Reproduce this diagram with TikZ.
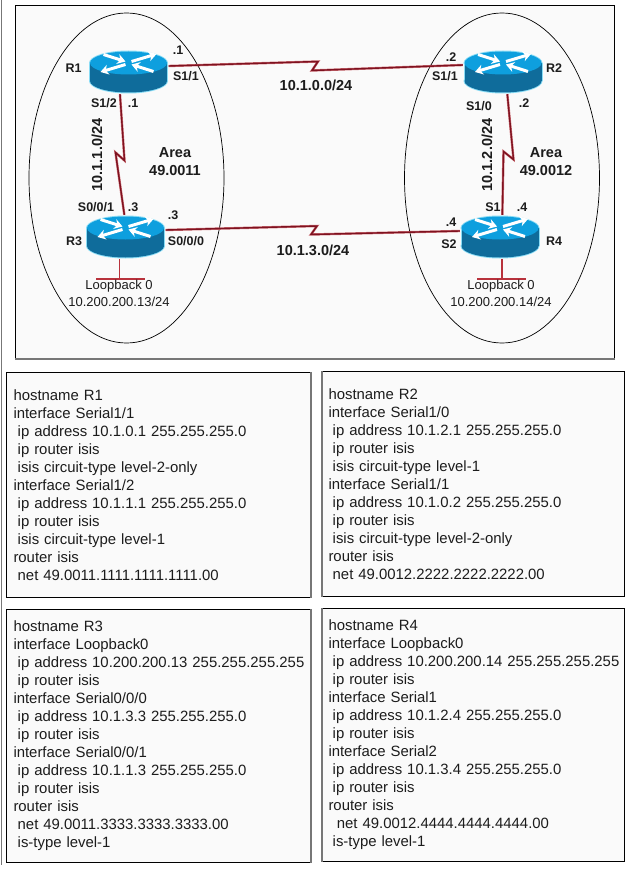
\documentclass[tikz,border=0pt]{standalone}
\usepackage{fontspec}
\setmainfont{Liberation Sans}
\usetikzlibrary{shapes.geometric,arrows.meta}
\definecolor{serialred}{HTML}{7E1220}
\definecolor{stubred}{HTML}{B8323C}
\definecolor{boxfill}{HTML}{FAFAFA}
\definecolor{routertop}{HTML}{0E9FDE}
\definecolor{routerside}{HTML}{0F6C9B}
\definecolor{routerglow}{HTML}{8ADCF5}
\definecolor{edgegray}{HTML}{777777}
\definecolor{inkgray}{HTML}{1C1C1C}
\newcommand{\ind}{\hspace*{4.2pt}}
\tikzset{
  routerdev/.style={minimum width=80pt,minimum height=44pt,inner sep=0pt,
    path picture={
      \begin{scope}[shift={(path picture bounding box.center)}]
      \fill[routerglow] (0,9) ellipse (39.5 and 12.5);
      \fill[routerglow] (-39.5,-9) rectangle (39.5,9);
      \fill[routerglow] (0,-9) ellipse (39.5 and 12.5);
      \fill[routerside] (0,9) ellipse (38.5 and 11.5);
      \fill[routerside] (-38.5,-9) rectangle (38.5,9);
      \fill[routertop] (0,-9) ellipse (38.5 and 11.5);
      \draw[arrowx] (-25,-17.5) -- (-3,-10.5);
      \draw[arrowx] (25,-0.5) -- (3,-7.5);
      \draw[arrowx] (3,-10.5) -- (28,-18);
      \draw[arrowx] (-3,-7.5) -- (-28,0);
      \end{scope}}},
  arrowx/.style={white,line width=3pt,-{Stealth[length=8pt,width=10pt]}},
  area/.style={draw=black,ellipse,inner sep=0pt,minimum width=195pt,minimum height=330pt,line width=0.7pt},
  serial/.style={draw=serialred,line width=1.4pt,line join=miter,preaction={draw=stubred!70,line width=2.4pt}},
  stub/.style={draw=stubred,line width=1.8pt},
  lab/.style={text=inkgray,inner sep=0pt,font=\bfseries\fontsize{12.5}{14}\selectfont},
  net/.style={text=inkgray,inner sep=0pt,align=center,font=\bfseries\fontsize{14.5}{18}\selectfont},
  loop/.style={text=inkgray,inner sep=0pt,font=\fontsize{13}{15}\selectfont},
  cfgbox/.style={draw=black,line width=1pt,fill=boxfill,anchor=north west,text=inkgray,align=left,inner ysep=0pt,font=\fontsize{14.9}{18}\selectfont},
  shadow/.style={draw=edgegray,line width=1.6pt}
}
\begin{document}
\begin{tikzpicture}[x=1pt,y=-1pt]
\useasboundingbox (0,0) rectangle (628,869);
\fill[white] (0,0) rectangle (628,869);
\coordinate (edgetop) at (1.5,0);
\coordinate (edgebot) at (1.5,865);
\draw[edgegray,line width=1pt] (edgetop) -- (edgebot);
\node[draw=black,line width=1pt,fill=boxfill,anchor=north west,inner sep=0pt,minimum width=599pt,minimum height=353pt] (topbox) at (15,5) {};
\draw[shadow] (topbox.south west) -- (topbox.south east);
\node[area] (area1) at (126.5,178) {};
\node[area] (area2) at (502,178) {};
\node[routerdev] (R1) at (128.5,72) {};
\node[routerdev] (R2) at (503,72) {};
\node[routerdev] (R3) at (125.5,237) {};
\node[routerdev] (R4) at (500,237) {};
\draw[serial] (R1.east |- 0,66) -- (318,61.5) -- (312,70.5) -- (R2.west |- 0,65);
\draw[serial] (R3.east |- 0,230) -- (317,226) -- (311,234.5) -- (R4.west |- 0,231);
\draw[serial] (R1.-111) -- (124.5,160.5) -- (115.5,152.5) -- (R3.93);
\draw[serial] (R2.-79) -- (513.5,159.5) -- (503.5,151.5) -- (R4.84);
\coordinate (lo3l) at (96,279);
\coordinate (lo3r) at (145,279);
\coordinate (lo3m) at (119.5,279);
\coordinate (lo4l) at (477,279);
\coordinate (lo4r) at (526,279);
\coordinate (lo4m) at (502,279);
\draw[stub] (R3.south -| lo3m) -- (lo3m);
\draw[stub] (lo3l) -- (lo3r);
\draw[stub] (R4.south -| lo4m) -- (lo4m);
\draw[stub] (lo4l) -- (lo4r);
\node[lab] (nameR1) at (73.5,68) {R1};
\node[lab] (nameR2) at (554,68) {R2};
\node[lab] (nameR3) at (74,241) {R3};
\node[lab] (nameR4) at (554,241) {R4};
\node[lab] (ipR1a) at (178,50) {.1};
\node[lab] (ifR1a) at (186,76) {S1/1};
\node[lab] (ifR1b) at (104,103) {S1/2};
\node[lab] (ipR1b) at (133,103) {.1};
\node[lab] (ipR2a) at (451,57) {.2};
\node[lab] (ifR2a) at (445,76) {S1/1};
\node[lab] (ifR2b) at (479,106) {S1/0};
\node[lab] (ipR2b) at (524,103) {.2};
\node[lab] (ifR3a) at (96,207) {S0/0/1};
\node[lab] (ipR3a) at (133,207) {.3};
\node[lab] (ipR3b) at (173,215) {.3};
\node[lab] (ifR3b) at (186,241) {S0/0/0};
\node[lab] (ifR4a) at (493,207) {S1};
\node[lab] (ipR4a) at (522,207) {.4};
\node[lab] (ipR4b) at (451,222) {.4};
\node[lab] (ifR4b) at (449,244) {S2};
\node[net] (net10) at (316,85) {10.1.0.0/24};
\node[net] (net13) at (313,250) {10.1.3.0/24};
\node[net,rotate=90] (net11) at (97,155) {10.1.1.0/24};
\node[net,rotate=90] (net12) at (487,155) {10.1.2.0/24};
\node[net] (area1txt) at (175,162) {Area\\49.0011};
\node[net] (area2txt) at (546,162) {Area\\49.0012};
\node[loop] (lo3a) at (119,286) {Loopback 0};
\node[loop] (lo3b) at (119,302) {10.200.200.13/24};
\node[loop] (lo4a) at (501,286) {Loopback 0};
\node[loop] (lo4b) at (501,302) {10.200.200.14/24};
\node[cfgbox,inner xsep=7pt,text width=290pt,minimum width=304pt,minimum height=225pt] (cfgR1) at (6,372) {hostname R1\\interface Serial1/1\\\ind ip address 10.1.0.1 255.255.255.0\\\ind ip router isis\\\ind isis circuit-type level-2-only\\interface Serial1/2\\\ind ip address 10.1.1.1 255.255.255.0\\\ind ip router isis\\\ind isis circuit-type level-1\\router isis\\\ind net 49.0011.1111.1111.1111.00};
\node[cfgbox,inner xsep=6pt,text width=290pt,minimum width=302pt,minimum height=225pt] (cfgR2) at (322,371) {hostname R2\\interface Serial1/0\\\ind ip address 10.1.2.1 255.255.255.0\\\ind ip router isis\\\ind isis circuit-type level-1\\interface Serial1/1\\\ind ip address 10.1.0.2 255.255.255.0\\\ind ip router isis\\\ind isis circuit-type level-2-only\\router isis\\\ind net 49.0012.2222.2222.2222.00};
\node[cfgbox,inner xsep=7pt,text width=290pt,minimum width=304pt,minimum height=253pt] (cfgR3) at (6,609) {hostname R3\\interface Loopback0\\\mbox{\ind ip address 10.200.200.13 255.255.255.255}\\\ind ip router isis\\interface Serial0/0/0\\\ind ip address 10.1.3.3 255.255.255.0\\\ind ip router isis\\interface Serial0/0/1\\\ind ip address 10.1.1.3 255.255.255.0\\\ind ip router isis\\router isis\\\ind net 49.0011.3333.3333.3333.00\\\ind is-type level-1};
\node[cfgbox,inner xsep=6pt,text width=290pt,minimum width=302pt,minimum height=253pt] (cfgR4) at (322,608) {hostname R4\\interface Loopback0\\\mbox{\ind ip address 10.200.200.14 255.255.255.255}\\\ind ip router isis\\interface Serial1\\\ind ip address 10.1.2.4 255.255.255.0\\\ind ip router isis\\interface Serial2\\\ind ip address 10.1.3.4 255.255.255.0\\\ind ip router isis\\router isis\\\ind\ind net 49.0012.4444.4444.4444.00\\\ind is-type level-1};
\draw[shadow] (cfgR1.north east) -- (cfgR1.south east);
\draw[shadow] (cfgR3.north east) -- (cfgR3.south east);
\draw[shadow] (cfgR2.north west) -- (cfgR2.south west);
\draw[shadow] (cfgR4.north west) -- (cfgR4.south west);
\end{tikzpicture}
\end{document}
